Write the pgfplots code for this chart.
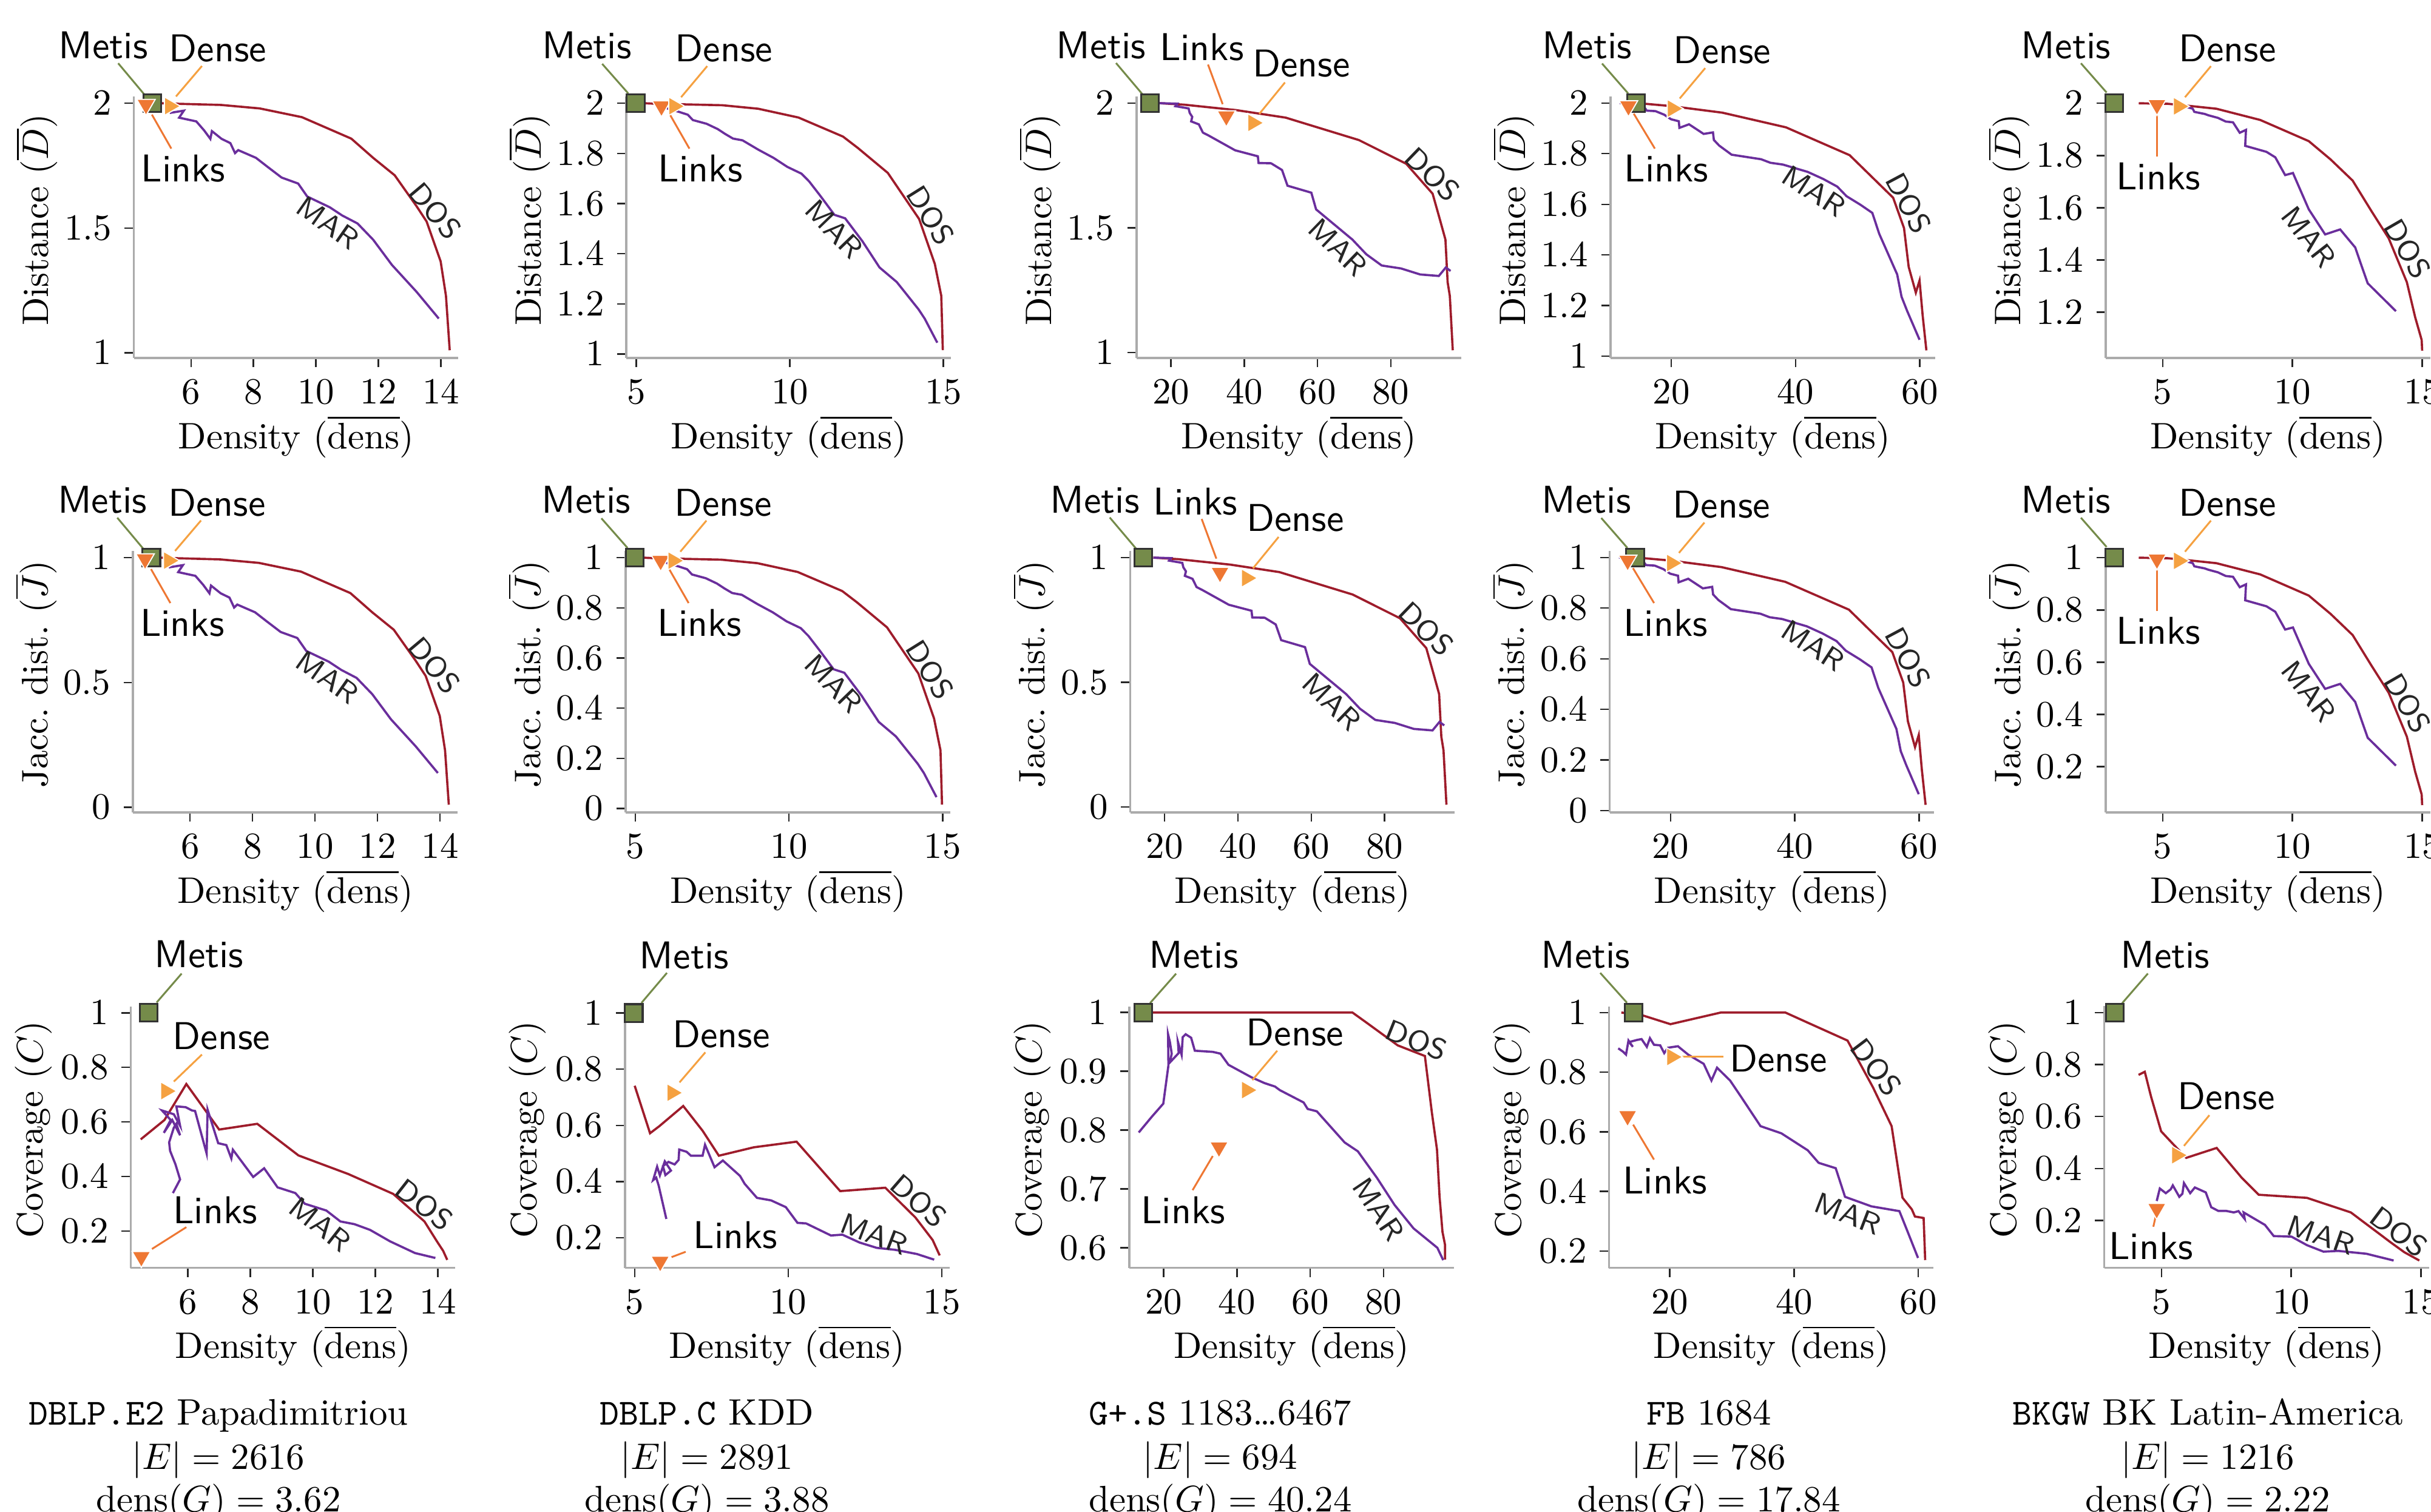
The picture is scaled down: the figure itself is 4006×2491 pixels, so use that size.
\documentclass[border=0pt]{standalone}
\usepackage{fontspec}
\usepackage{pgfplots}
\pgfplotsset{compat=1.18}
\usepackage{pgfplotstable}

\definecolor{dosred}{HTML}{9E1C2B}
\definecolor{marpur}{HTML}{6A2E9C}
\definecolor{metisg}{HTML}{758B4A}
\definecolor{linkso}{HTML}{EE7733}
\definecolor{denseo}{HTML}{F5A141}
\definecolor{axgray}{HTML}{ABABAB}

\newcommand\U{0.1644pt}
\newcommand\pos[2]{at={({#1*\U},{#2*\U})}}

\pgfplotsset{
  sub/.style={
    scale only axis, width=87.95pt, height=70.86pt, anchor=south west,
    axis lines=left, axis line style={-, draw=axgray, line width=0.6pt},
    tick style={draw=black!85, line width=0.4pt}, major tick length=2.5pt,
    tick align=outside, minor tick num=0, clip=false,
    xlabel={Density ($\overline{\mathrm{dens}}$)},
    xlabel style={at={(axis description cs:0.5,0)}, anchor=base, yshift=-24.5pt},
    % label is rotated by 90 degrees: yshift moves it left, xshift moves it up
    ylabel style={at={(axis description cs:0,0.5)}, anchor=center, yshift=26.3pt, xshift=2pt},
  },
  dos/.style={no markers, draw=dosred, line width=0.6pt},
  mar/.style={no markers, draw=marpur, line width=0.6pt},
  metis/.style={only marks, mark=square*, mark size=2.4pt,
    mark options={fill=metisg, draw=black!80, line width=0.5pt}},
  links/.style={only marks, mark=triangle*, mark size=2.9pt,
    mark options={rotate=180, fill=linkso, draw=white, line width=0.3pt}},
  dense/.style={only marks, mark=triangle*, mark size=2.9pt,
    mark options={rotate=-90, fill=denseo, draw=white, line width=0.3pt}},
}
\tikzset{
  lab/.style={font=\fontsize{10.5}{12}\selectfont\sffamily, inner sep=0pt},
  cl/.style={font=\fontsize{8}{9}\selectfont\sffamily, text=black!85, inner sep=0pt},
  ln/.style={line width=0.5pt},
}

% distance / jaccard curves: x, D, J
\pgfplotstableread{
x D J
5.00 2.000 1.000
5.47 1.998 0.998
6.96 1.993 0.993
8.20 1.979 0.979
9.55 1.944 0.944
11.13 1.858 0.858
11.83 1.781 0.781
12.52 1.711 0.711
13.22 1.587 0.587
13.54 1.526 0.526
13.99 1.366 0.366
14.16 1.228 0.228
14.28 1.010 0.010
}\dosA
\pgfplotstableread{
x D J
5.32 1.961 0.961
5.77 1.970 0.970
5.62 1.942 0.942
6.17 1.927 0.927
6.42 1.891 0.891
6.62 1.857 0.857
6.67 1.888 0.888
6.98 1.857 0.857
7.26 1.840 0.840
7.41 1.800 0.800
7.51 1.812 0.812
8.08 1.781 0.781
8.45 1.745 0.745
8.90 1.702 0.702
9.43 1.678 0.678
9.72 1.626 0.626
10.44 1.583 0.583
10.84 1.550 0.550
11.33 1.518 0.518
11.83 1.453 0.453
12.43 1.352 0.352
13.22 1.244 0.244
13.93 1.137 0.137
}\marA
\pgfplotstableread{
x D J
5.26 2.000 1.000
5.62 1.998 0.998
7.80 1.992 0.992
8.97 1.978 0.978
10.28 1.943 0.943
11.73 1.867 0.867
12.21 1.822 0.822
13.19 1.722 0.722
14.21 1.538 0.538
14.72 1.359 0.359
14.93 1.232 0.232
14.98 1.015 0.015
}\dosB
\pgfplotstableread{
x D J
5.90 1.985 0.985
6.08 1.976 0.976
6.38 1.966 0.966
6.68 1.954 0.954
6.84 1.933 0.933
7.29 1.918 0.918
7.65 1.897 0.897
7.90 1.877 0.877
8.15 1.859 0.859
8.46 1.852 0.852
8.97 1.815 0.815
9.47 1.782 0.782
9.92 1.746 0.746
10.38 1.719 0.719
10.63 1.688 0.688
10.99 1.631 0.631
11.45 1.555 0.555
11.80 1.541 0.541
12.36 1.450 0.450
12.92 1.345 0.345
13.48 1.287 0.287
14.19 1.178 0.178
14.39 1.141 0.141
14.80 1.045 0.045
}\marB
\pgfplotstableread{
x D J
16.9 2.000 1.000
23.6 1.994 0.994
37.9 1.972 0.972
51.3 1.942 0.942
71.3 1.852 0.852
84.2 1.757 0.757
91.4 1.637 0.637
93.3 1.538 0.538
94.9 1.453 0.453
95.5 1.282 0.282
96.1 1.227 0.227
96.9 1.009 0.009
}\dosC
\pgfplotstableread{
x D J
16.9 2.000 1.000
21.7 1.998 0.998
21.2 1.988 0.988
24.8 1.979 0.979
25.1 1.961 0.961
25.8 1.945 0.945
25.5 1.927 0.927
27.6 1.915 0.915
28.7 1.882 0.882
30.3 1.870 0.870
37.5 1.811 0.811
43.7 1.787 0.787
43.9 1.760 0.760
47.3 1.759 0.759
50.3 1.732 0.732
51.8 1.669 0.669
58.3 1.641 0.641
59.6 1.574 0.574
69.5 1.453 0.453
73.3 1.394 0.394
77.5 1.349 0.349
82.8 1.337 0.337
88.0 1.313 0.313
93.1 1.307 0.307
95.0 1.341 0.341
96.3 1.327 0.327
}\marC
\pgfplotstableread{
x D J
14.45 2.000 1.000
19.95 1.988 0.988
28.20 1.962 0.962
38.45 1.904 0.904
48.70 1.794 0.794
55.70 1.626 0.626
57.45 1.506 0.506
58.20 1.353 0.353
59.35 1.251 0.251
59.95 1.299 0.299
60.45 1.161 0.161
61.05 1.023 0.023
}\dosD
\pgfplotstableread{
x D J
11.70 2.000 1.000
13.45 1.994 0.994
15.70 1.982 0.982
16.05 1.970 0.970
17.45 1.968 0.968
18.85 1.954 0.954
19.95 1.936 0.936
21.20 1.928 0.928
21.30 1.902 0.902
22.85 1.916 0.916
25.20 1.878 0.878
26.70 1.884 0.884
26.85 1.854 0.854
27.70 1.832 0.832
29.70 1.796 0.796
34.45 1.778 0.778
35.95 1.764 0.764
37.95 1.757 0.757
41.95 1.728 0.728
44.45 1.700 0.700
46.70 1.670 0.670
48.20 1.632 0.632
50.45 1.598 0.598
52.35 1.566 0.566
53.45 1.484 0.484
56.35 1.323 0.323
57.05 1.235 0.235
57.95 1.179 0.179
59.95 1.065 0.065
}\marD
\pgfplotstableread{
x D J
4.08 2.000 1.000
5.19 1.998 0.998
5.92 1.991 0.991
7.07 1.979 0.979
8.76 1.936 0.936
10.63 1.855 0.855
11.47 1.785 0.785
12.32 1.704 0.704
13.04 1.588 0.588
13.71 1.483 0.483
14.41 1.315 0.315
14.73 1.181 0.181
14.98 1.094 0.094
15.00 1.053 0.053
}\dosE
\pgfplotstableread{
x D J
5.92 1.986 0.986
6.16 1.979 0.979
6.22 1.967 0.967
6.62 1.959 0.959
6.76 1.954 0.954
7.13 1.944 0.944
7.43 1.930 0.930
7.71 1.927 0.927
7.97 1.887 0.887
8.21 1.898 0.898
8.18 1.837 0.837
9.00 1.814 0.814
9.34 1.793 0.793
9.72 1.725 0.725
10.02 1.733 0.733
10.63 1.594 0.594
11.26 1.498 0.498
11.84 1.517 0.517
12.42 1.448 0.448
12.66 1.379 0.379
12.90 1.311 0.311
13.99 1.204 0.204
}\marE

% annotations of the distance / jaccard rows (#1 = vertical offset)
\newcommand\annA[1]{%
  \draw[ln,metisg] (axis cs:3.67,{2.160-#1}) -- (axis cs:4.50,{2.036-#1});
  \draw[ln,denseo] (axis cs:6.35,{2.149-#1}) -- (axis cs:5.52,{2.027-#1});
  \draw[ln,linkso] (axis cs:5.37,{1.818-#1}) -- (axis cs:4.75,{1.954-#1});
  \node[lab] at (axis cs:3.19,{2.231-#1}) {Metis};
  \node[lab] at (axis cs:6.86,{2.219-#1}) {Dense};
  \node[lab] at (axis cs:5.75,{1.739-#1}) {Links};
  \node[cl,rotate=-50] at (axis cs:13.82,{1.569-#1}) {DOS};
  \node[cl,rotate=-35] at (axis cs:10.39,{1.520-#1}) {MAR};}
\newcommand\annB[1]{%
  \draw[ln,metisg] (axis cs:3.89,{2.157-#1}) -- (axis cs:4.74,{2.039-#1});
  \draw[ln,denseo] (axis cs:7.31,{2.148-#1}) -- (axis cs:6.46,{2.024-#1});
  \draw[ln,linkso] (axis cs:6.73,{1.819-#1}) -- (axis cs:6.08,{1.958-#1});
  \node[lab] at (axis cs:3.39,{2.230-#1}) {Metis};
  \node[lab] at (axis cs:7.85,{2.218-#1}) {Dense};
  \node[lab] at (axis cs:7.09,{1.740-#1}) {Links};
  \node[cl,rotate=-58] at (axis cs:14.59,{1.553-#1}) {DOS};
  \node[cl,rotate=-46] at (axis cs:11.45,{1.498-#1}) {MAR};}
\newcommand\annC[1]{%
  \draw[ln,metisg] (axis cs:5.0,{2.161-#1}) -- (axis cs:12.2,{2.036-#1});
  \draw[ln,linkso] (axis cs:30.1,{2.155-#1}) -- (axis cs:34.1,{1.996-#1});
  \draw[ln,denseo] (axis cs:51.1,{2.083-#1}) -- (axis cs:44.1,{1.957-#1});
  \node[lab] at (axis cs:0.92,{2.231-#1}) {Metis};
  \node[lab] at (axis cs:28.4,{2.225-#1}) {Links};
  \node[lab] at (axis cs:55.6,{2.158-#1}) {Dense};
  \node[cl,rotate=-44] at (axis cs:91.4,{1.714-#1}) {DOS};
  \node[cl,rotate=-44] at (axis cs:65.6,{1.422-#1}) {MAR};}
\newcommand\annD[1]{%
  \draw[ln,metisg] (axis cs:8.85,{2.156-#1}) -- (axis cs:13.05,{2.038-#1});
  \draw[ln,denseo] (axis cs:25.45,{2.138-#1}) -- (axis cs:21.35,{2.018-#1});
  \draw[ln,linkso] (axis cs:17.35,{1.820-#1}) -- (axis cs:13.95,{1.958-#1});
  \node[lab] at (axis cs:6.45,{2.228-#1}) {Metis};
  \node[lab] at (axis cs:28.2,{2.210-#1}) {Dense};
  \node[lab] at (axis cs:19.2,{1.742-#1}) {Links};
  \node[cl,rotate=-62] at (axis cs:58.2,{1.604-#1}) {DOS};
  \node[cl,rotate=-33] at (axis cs:42.95,{1.652-#1}) {MAR};}
\newcommand\annE[1]{%
  \draw[ln,metisg] (axis cs:1.85,{2.153-#1}) -- (axis cs:2.84,{2.041-#1});
  \draw[ln,denseo] (axis cs:6.86,{2.142-#1}) -- (axis cs:5.86,{2.023-#1});
  \draw[ln,linkso] (axis cs:4.78,{1.797-#1}) -- (axis cs:4.78,{1.954-#1});
  \node[lab] at (axis cs:1.27,{2.221-#1}) {Metis};
  \node[lab] at (axis cs:7.49,{2.209-#1}) {Dense};
  \node[lab] at (axis cs:4.83,{1.721-#1}) {Links};
  \node[cl,rotate=-60] at (axis cs:14.43,{1.443-#1}) {DOS};
  \node[cl,rotate=-52] at (axis cs:10.63,{1.489-#1}) {MAR};}

\begin{document}
\begin{tikzpicture}[x=0.1644pt, y=0.1644pt]

% ---------------- row 1: distance ----------------
\begin{axis}[sub, \pos{220.5}{1901}, xmin=4.17, xmax=14.56, ymin=0.979, ymax=2.027,
  xtick={6,8,10,12,14}, ytick={1,1.5,2}, ylabel={Distance ($\overline{D}$)}]
  \addplot[dos] table[x=x,y=D] {\dosA};
  \addplot[mar] table[x=x,y=D] {\marA};
  \annA{0}
  \addplot[metis] coordinates {(4.76,2.0)};
  \addplot[links] coordinates {(4.56,1.994)};
  \addplot[dense] coordinates {(5.32,1.988)};
\end{axis}
\begin{axis}[sub, \pos{1032.3}{1901}, xmin=4.68, xmax=15.25, ymin=0.984, ymax=2.027,
  xtick={5,10,15}, ytick={1,1.2,1.4,1.6,1.8,2}, ylabel={Distance ($\overline{D}$)}]
  \addplot[dos] table[x=x,y=D] {\dosB};
  \addplot[mar] table[x=x,y=D] {\marB};
  \annB{0}
  \addplot[metis] coordinates {(4.98,2.0)};
  \addplot[links] coordinates {(5.82,1.988)};
  \addplot[dense] coordinates {(6.23,1.988)};
\end{axis}
\begin{axis}[sub, \pos{1872.9}{1901}, xmin=10.6, xmax=99.2, ymin=0.978, ymax=2.027,
  xtick={20,40,60,80}, ytick={1,1.5,2}, ylabel={Distance ($\overline{D}$)}]
  \addplot[dos] table[x=x,y=D] {\dosC};
  \addplot[mar] table[x=x,y=D] {\marC};
  \annC{0}
  \addplot[metis] coordinates {(14.2,2.0)};
  \addplot[links] coordinates {(35.1,1.948)};
  \addplot[dense] coordinates {(42.4,1.921)};
\end{axis}
\begin{axis}[sub, \pos{2653.8}{1901}, xmin=10.2, xmax=62.45, ymin=0.993, ymax=2.026,
  xtick={20,40,60}, ytick={1,1.2,1.4,1.6,1.8,2}, ylabel={Distance ($\overline{D}$)}]
  \addplot[dos] table[x=x,y=D] {\dosD};
  \addplot[mar] table[x=x,y=D] {\marD};
  \annD{0}
  \addplot[metis] coordinates {(14.3,2.0)};
  \addplot[links] coordinates {(13.1,1.988)};
  \addplot[dense] coordinates {(20.2,1.978)};
\end{axis}
\begin{axis}[sub, \pos{3469.7}{1901}, xmin=2.8, xmax=15.31, ymin=1.025, ymax=2.026,
  xtick={5,10,15}, ytick={1.2,1.4,1.6,1.8,2}, ylabel={Distance ($\overline{D}$)}]
  \addplot[dos] table[x=x,y=D] {\dosE};
  \addplot[mar] table[x=x,y=D] {\marE};
  \annE{0}
  \addplot[metis] coordinates {(3.14,2.0)};
  \addplot[links] coordinates {(4.78,1.994)};
  \addplot[dense] coordinates {(5.62,1.988)};
\end{axis}

% ---------------- row 2: jaccard distance ----------------
\begin{axis}[sub, \pos{219}{1152}, xmin=4.17, xmax=14.56, ymin=-0.021, ymax=1.027,
  xtick={6,8,10,12,14}, ytick={0,0.5,1}, ylabel={Jacc.\ dist.\ ($\overline{J}$)}]
  \addplot[dos] table[x=x,y=J] {\dosA};
  \addplot[mar] table[x=x,y=J] {\marA};
  \annA{1}
  \addplot[metis] coordinates {(4.76,1.0)};
  \addplot[links] coordinates {(4.56,0.994)};
  \addplot[dense] coordinates {(5.32,0.988)};
\end{axis}
\begin{axis}[sub, \pos{1031}{1152}, xmin=4.68, xmax=15.25, ymin=-0.016, ymax=1.027,
  xtick={5,10,15}, ytick={0,0.2,0.4,0.6,0.8,1}, ylabel={Jacc.\ dist.\ ($\overline{J}$)}]
  \addplot[dos] table[x=x,y=J] {\dosB};
  \addplot[mar] table[x=x,y=J] {\marB};
  \annB{1}
  \addplot[metis] coordinates {(4.98,1.0)};
  \addplot[links] coordinates {(5.82,0.988)};
  \addplot[dense] coordinates {(6.23,0.988)};
\end{axis}
\begin{axis}[sub, \pos{1862.5}{1152}, xmin=10.6, xmax=99.2, ymin=-0.022, ymax=1.027,
  xtick={20,40,60,80}, ytick={0,0.5,1}, ylabel={Jacc.\ dist.\ ($\overline{J}$)}]
  \addplot[dos] table[x=x,y=J] {\dosC};
  \addplot[mar] table[x=x,y=J] {\marC};
  \annC{1}
  \addplot[metis] coordinates {(14.2,1.0)};
  \addplot[links] coordinates {(35.1,0.940)};
  \addplot[dense] coordinates {(42.4,0.918)};
\end{axis}
\begin{axis}[sub, \pos{2652.5}{1152}, xmin=10.2, xmax=62.45, ymin=-0.007, ymax=1.026,
  xtick={20,40,60}, ytick={0,0.2,0.4,0.6,0.8,1}, ylabel={Jacc.\ dist.\ ($\overline{J}$)}]
  \addplot[dos] table[x=x,y=J] {\dosD};
  \addplot[mar] table[x=x,y=J] {\marD};
  \annD{1}
  \addplot[metis] coordinates {(14.3,1.0)};
  \addplot[links] coordinates {(13.1,0.988)};
  \addplot[dense] coordinates {(20.2,0.978)};
\end{axis}
\begin{axis}[sub, \pos{3469.7}{1152}, xmin=2.8, xmax=15.31, ymin=0.025, ymax=1.026,
  xtick={5,10,15}, ytick={0.2,0.4,0.6,0.8,1}, ylabel={Jacc.\ dist.\ ($\overline{J}$)}]
  \addplot[dos] table[x=x,y=J] {\dosE};
  \addplot[mar] table[x=x,y=J] {\marE};
  \annE{1}
  \addplot[metis] coordinates {(3.14,1.0)};
  \addplot[links] coordinates {(4.78,0.994)};
  \addplot[dense] coordinates {(5.62,0.988)};
\end{axis}

% ---------------- row 3: coverage ----------------
\begin{axis}[sub, \pos{215.4}{401.5}, xmin=4.17, xmax=14.56, ymin=0.065, ymax=1.024,
  xtick={6,8,10,12,14}, ytick={0.2,0.4,0.6,0.8,1}, ylabel={Coverage ($C$)}]
  \addplot[dos] coordinates {(4.49,0.536) (5.25,0.607) (5.95,0.739) (7.00,0.572)
    (8.22,0.593) (9.54,0.477) (11.13,0.409) (12.57,0.336) (13.57,0.235)
    (13.97,0.162) (14.17,0.127) (14.30,0.094)};
  \addplot[mar] coordinates {(5.52,0.339) (5.75,0.389) (5.60,0.445) (5.43,0.494)
    (5.40,0.525) (5.55,0.579) (5.63,0.593) (5.75,0.551) (5.50,0.607) (5.23,0.560)
    (5.45,0.607) (5.17,0.642) (5.55,0.628) (5.75,0.586) (5.63,0.657) (5.93,0.654)
    (6.13,0.642) (6.23,0.640) (6.60,0.484) (6.63,0.645) (6.97,0.522) (7.23,0.515)
    (7.39,0.466) (7.44,0.498) (8.09,0.398) (8.44,0.430) (8.87,0.360) (9.44,0.339)
    (9.74,0.300) (10.43,0.275) (10.88,0.235) (11.33,0.225) (11.83,0.204)
    (12.47,0.162) (13.27,0.119) (13.92,0.101)};
  \draw[ln,metisg] (axis cs:5.80,1.144) -- (axis cs:5.0,1.038);
  \draw[ln,denseo] (axis cs:6.45,0.847) -- (axis cs:5.55,0.748);
  \draw[ln,linkso] (axis cs:5.95,0.214) -- (axis cs:4.85,0.134);
  \node[lab] at (axis cs:6.35,1.215) {Metis};
  \node[lab] at (axis cs:7.07,0.914) {Dense};
  \node[lab] at (axis cs:6.87,0.275) {Links};
  \node[cl,rotate=-38] at (axis cs:13.57,0.296) {DOS};
  \node[cl,rotate=-38] at (axis cs:10.23,0.225) {MAR};
  \addplot[metis] coordinates {(4.74,1.0)};
  \addplot[links] coordinates {(4.51,0.105)};
  \addplot[dense] coordinates {(5.30,0.713)};
\end{axis}
\begin{axis}[sub, \pos{1029.7}{401.5}, xmin=4.68, xmax=15.25, ymin=0.093, ymax=1.024,
  xtick={5,10,15}, ytick={0.2,0.4,0.6,0.8,1}, ylabel={Coverage ($C$)}]
  \addplot[dos] coordinates {(5.00,0.741) (5.50,0.572) (5.80,0.597) (6.58,0.669)
    (7.21,0.581) (7.74,0.492) (8.88,0.522) (10.27,0.542) (11.69,0.366)
    (13.16,0.378) (14.14,0.272) (14.70,0.192) (14.93,0.137)};
  \addplot[mar] coordinates {(6.03,0.267) (5.78,0.386) (5.70,0.414) (5.60,0.405)
    (5.73,0.453) (5.82,0.422) (5.98,0.472) (6.18,0.439) (6.00,0.423) (5.92,0.455)
    (6.10,0.470) (6.30,0.461) (6.43,0.477) (6.45,0.514) (6.69,0.506) (6.83,0.492)
    (7.21,0.492) (7.29,0.531) (7.60,0.451) (7.87,0.475) (8.43,0.420) (8.58,0.392)
    (8.98,0.342) (9.44,0.333) (9.92,0.309) (10.30,0.253) (10.58,0.251)
    (11.39,0.208) (11.76,0.211) (12.32,0.183) (12.88,0.164) (13.48,0.157)
    (14.19,0.142) (14.75,0.122)};
  \draw[ln,metisg] (axis cs:6.05,1.143) -- (axis cs:5.22,1.036);
  \draw[ln,denseo] (axis cs:7.30,0.860) -- (axis cs:6.46,0.753);
  \draw[ln,linkso] (axis cs:6.66,0.150) -- (axis cs:6.20,0.131);
  \node[lab] at (axis cs:6.61,1.204) {Metis};
  \node[lab] at (axis cs:7.82,0.925) {Dense};
  \node[lab] at (axis cs:8.28,0.209) {Links};
  \node[cl,rotate=-41] at (axis cs:14.24,0.331) {DOS};
  \node[cl,rotate=-21] at (axis cs:12.80,0.214) {MAR};
  \addplot[metis] coordinates {(4.97,1.0)};
  \addplot[links] coordinates {(5.83,0.115)};
  \addplot[dense] coordinates {(6.22,0.716)};
\end{axis}
\begin{axis}[sub, \pos{1860.8}{401.5}, xmin=10.6, xmax=99.2, ymin=0.566, ymax=1.0105,
  xtick={20,40,60,80}, ytick={0.6,0.7,0.8,0.9,1}, ylabel={Coverage ($C$)}]
  \addplot[dos] coordinates {(14.4,1.000) (71.5,1.000) (75.3,0.983) (83.9,0.944)
    (91.3,0.926) (93.2,0.830) (94.6,0.767) (95.3,0.687) (96.1,0.627) (96.8,0.605)
    (96.8,0.580)};
  \addplot[mar] coordinates {(13.2,0.796) (16.8,0.823) (19.9,0.845) (21.3,0.910)
    (21.2,0.963) (21.7,0.950) (22.2,0.930) (21.7,0.915) (24.1,0.931) (23.9,0.950)
    (24.9,0.928) (25.2,0.958) (26.0,0.963) (27.5,0.957) (28.5,0.935) (33.4,0.933)
    (35.5,0.930) (37.7,0.911) (43.9,0.890) (47.5,0.880) (50.4,0.874) (51.7,0.868)
    (58.2,0.847) (59.3,0.836) (61.8,0.832) (69.4,0.779) (73.0,0.764) (78.2,0.719)
    (83.0,0.673) (88.2,0.633) (94.7,0.600) (96.3,0.579)};
  \draw[ln,metisg] (axis cs:23.4,1.066) -- (axis cs:16.3,1.016);
  \draw[ln,denseo] (axis cs:51.0,0.935) -- (axis cs:44.2,0.885);
  \draw[ln,linkso] (axis cs:27.9,0.698) -- (axis cs:33.4,0.756);
  \node[lab] at (axis cs:28.2,1.098) {Metis};
  \node[lab] at (axis cs:55.8,0.966) {Dense};
  \node[lab] at (axis cs:25.3,0.664) {Links};
  \node[cl,rotate=-22] at (axis cs:89.0,0.953) {DOS};
  \node[cl,rotate=-56] at (axis cs:78.7,0.666) {MAR};
  \addplot[metis] coordinates {(14.4,1.0)};
  \addplot[links] coordinates {(35.1,0.771)};
  \addplot[dense] coordinates {(42.7,0.868)};
\end{axis}
\begin{axis}[sub, \pos{2651.3}{401.5}, xmin=10.2, xmax=62.45, ymin=0.144, ymax=1.021,
  xtick={20,40,60}, ytick={0.2,0.4,0.6,0.8,1}, ylabel={Coverage ($C$)}]
  \addplot[dos] coordinates {(12.2,1.000) (15.7,0.990) (20.1,0.961) (28.2,1.000)
    (38.6,1.000) (42.2,0.966) (48.6,0.906) (52.7,0.749) (55.7,0.619) (57.45,0.379)
    (58.95,0.340) (59.45,0.316) (60.85,0.311) (61.1,0.170)};
  \addplot[mar] coordinates {(11.7,0.880) (12.45,0.869) (12.95,0.859) (13.35,0.906)
    (14.05,0.885) (13.45,0.901) (14.7,0.908) (15.45,0.911) (16.3,0.885) (16.8,0.914)
    (17.45,0.892) (18.45,0.890) (19.1,0.864) (19.7,0.882) (21.3,0.887) (22.95,0.859)
    (25.45,0.828) (26.7,0.772) (27.6,0.815) (29.7,0.772) (31.45,0.718) (34.6,0.619)
    (37.95,0.595) (42.2,0.538) (43.95,0.496) (46.7,0.478) (48.2,0.382) (52.45,0.350)
    (56.95,0.334) (58.2,0.269) (59.95,0.177)};
  \draw[ln,metisg] (axis cs:8.8,1.133) -- (axis cs:13.1,1.033);
  \draw[ln,denseo] (axis cs:28.6,0.852) -- (axis cs:21.95,0.852);
  \draw[ln,linkso] (axis cs:17.45,0.507) -- (axis cs:14.1,0.624);
  \node[lab] at (axis cs:6.45,1.193) {Metis};
  \node[lab] at (axis cs:37.45,0.845) {Dense};
  \node[lab] at (axis cs:19.2,0.436) {Links};
  \node[cl,rotate=-53] at (axis cs:53.2,0.817) {DOS};
  \node[cl,rotate=-21] at (axis cs:48.7,0.326) {MAR};
  \addplot[metis] coordinates {(14.2,1.0)};
  \addplot[links] coordinates {(13.2,0.653)};
  \addplot[dense] coordinates {(20.35,0.851)};
\end{axis}
\begin{axis}[sub, \pos{3467.6}{401.5}, xmin=2.8, xmax=15.31, ymin=0.018, ymax=1.024,
  xtick={5,10,15}, ytick={0.2,0.4,0.6,0.8,1}, ylabel={Coverage ($C$)}]
  \addplot[dos] coordinates {(4.12,0.760) (4.36,0.772) (4.60,0.677) (4.99,0.543)
    (5.44,0.495) (5.96,0.441) (7.13,0.479) (8.09,0.365) (8.75,0.299) (10.61,0.287)
    (12.30,0.231) (13.86,0.114) (14.36,0.078) (14.94,0.046)};
  \addplot[mar] coordinates {(4.82,0.275) (4.94,0.323) (5.17,0.305) (5.36,0.320)
    (5.44,0.335) (5.69,0.291) (5.81,0.303) (5.87,0.344) (6.11,0.305) (6.29,0.327)
    (6.71,0.308) (6.92,0.251) (7.19,0.237) (7.49,0.237) (7.79,0.231) (7.97,0.236)
    (8.21,0.206) (8.17,0.231) (8.99,0.183) (9.33,0.140) (10.01,0.138) (10.61,0.105)
    (11.25,0.080) (11.81,0.083) (12.90,0.072) (13.95,0.046)};
  \draw[ln,metisg] (axis cs:4.48,1.150) -- (axis cs:3.49,1.036);
  \draw[ln,denseo] (axis cs:6.85,0.605) -- (axis cs:5.87,0.487);
  \draw[ln,linkso] (axis cs:4.78,0.216) -- (axis cs:4.69,0.176);
  \node[lab] at (axis cs:5.14,1.222) {Metis};
  \node[lab] at (axis cs:7.49,0.677) {Dense};
  \node[lab] at (axis cs:4.60,0.102) {Links};
  \node[cl,rotate=-37] at (axis cs:14.16,0.156) {DOS};
  \node[cl,rotate=-19] at (axis cs:11.15,0.144) {MAR};
  \addplot[metis] coordinates {(3.20,1.0)};
  \addplot[links] coordinates {(4.82,0.245)};
  \addplot[dense] coordinates {(5.60,0.451)};
\end{axis}

% ---------------- captions ----------------
\node[anchor=base] at (360,143) {\texttt{DBLP.E2} Papadimitriou};
\node[anchor=base] at (360,70) {$|E| = 2616$};
\node[anchor=base] at (360,0) {$\mathrm{dens}(G) = 3.62$};
\node[anchor=base] at (1165,143) {\texttt{DBLP.C} KDD};
\node[anchor=base] at (1165,70) {$|E| = 2891$};
\node[anchor=base] at (1165,0) {$\mathrm{dens}(G) = 3.88$};
\node[anchor=base] at (2011,143) {\texttt{G+.S} 1183\ldots6467};
\node[anchor=base] at (2011,70) {$|E| = 694$};
\node[anchor=base] at (2011,0) {$\mathrm{dens}(G) = 40.24$};
\node[anchor=base] at (2816,143) {\texttt{FB} 1684};
\node[anchor=base] at (2816,70) {$|E| = 786$};
\node[anchor=base] at (2816,0) {$\mathrm{dens}(G) = 17.84$};
\node[anchor=base] at (3638,143) {\texttt{BKGW} BK Latin-America};
\node[anchor=base] at (3638,70) {$|E| = 1216$};
\node[anchor=base] at (3638,0) {$\mathrm{dens}(G) = 2.22$};

\pgfresetboundingbox
\path[use as bounding box] (0,0) rectangle (4006,2491);
\end{tikzpicture}
\end{document}
